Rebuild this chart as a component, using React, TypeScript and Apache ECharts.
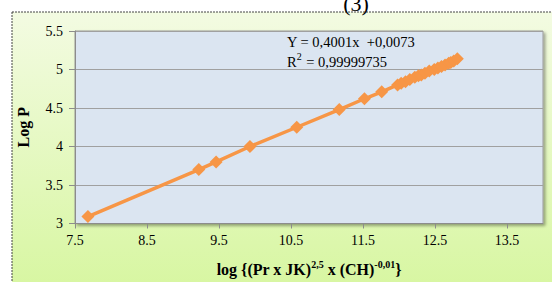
import React, { useEffect, useRef } from "react";
import * as echarts from "echarts";

const xValues = [7.68, 9.22, 9.46, 9.93, 10.58, 11.17, 11.52, 11.76, 11.98, 12.03, 12.09, 12.15, 12.22, 12.27, 12.31, 12.36, 12.42, 12.49, 12.54, 12.59, 12.64, 12.69, 12.72, 12.76, 12.81];
const yValues = [3.09, 3.70, 3.80, 4.00, 4.25, 4.48, 4.62, 4.71, 4.80, 4.82, 4.84, 4.87, 4.90, 4.92, 4.93, 4.95, 4.98, 5.00, 5.02, 5.04, 5.06, 5.08, 5.09, 5.11, 5.14];
const equationText = "Y = 0,4001x  +0,0073";
const r2Text = "0,99999735";
const yTitle = "Log P";
const figureLabel = "(3)";

const serif = "Liberation Serif";

export default function App() {
  const ref = useRef<HTMLDivElement>(null);
  useEffect(() => {
    document.body.style.margin = "0";
    const chart = echarts.init(ref.current!, undefined, { renderer: "svg" });
    const data = xValues.map((x, i) => [x, yValues[i]]);
    chart.setOption({
      animation: false,
      graphic: [
        {
          type: "rect",
          z: -100,
          silent: true,
          shape: { x: 12, y: 12, width: 560, height: 290 },
          style: {
            fill: new echarts.graphic.LinearGradient(0, 0, 0, 1, [
              { offset: 0, color: "#f3fbe2" },
              { offset: 1, color: "#d6f69e" },
            ]),
            stroke: "#444",
            lineWidth: 1,
            lineDash: [2, 1],
          },
        },
        {
          type: "text",
          x: 356,
          y: 14,
          style: {
            text: figureLabel,
            font: `22px "${serif}"`,
            fill: "#000",
            textAlign: "center",
            textVerticalAlign: "bottom",
          },
        },
        {
          type: "text",
          x: 287,
          y: 42,
          z: 10,
          style: {
            text: equationText,
            font: `14.5px "${serif}"`,
            fill: "#000",
            textVerticalAlign: "middle",
          },
        },
        {
          type: "text",
          x: 287,
          y: 62,
          z: 10,
          style: {
            text: "{a|R}{s|2}{a| = " + r2Text + "}",
            textVerticalAlign: "middle",
            rich: {
              a: { font: `14.5px "${serif}"`, fill: "#000" },
              s: { font: `10px "${serif}"`, fill: "#000", verticalAlign: "top", padding: [0, 1, 11, 0] },
            },
          },
        },
      ],
      grid: {
        left: 75,
        top: 31,
        right: 9,
        bottom: 55,
        show: true,
        backgroundColor: "#dbe5f1",
        borderColor: "#9a9a9a",
        borderWidth: 1,
        shadowColor: "rgba(0,0,0,0.35)",
        shadowBlur: 3,
        shadowOffsetX: 2,
        shadowOffsetY: 2,
      },
      xAxis: {
        type: "value",
        min: 7.5,
        max: 14,
        interval: 1,
        splitLine: { show: false },
        axisLine: { show: true, onZero: false, lineStyle: { color: "#8c8c8c" } },
        axisTick: { show: true, length: 5, lineStyle: { color: "#8c8c8c" } },
        axisLabel: {
          showMaxLabel: false,
          margin: 10,
          color: "#000",
          fontFamily: serif,
          fontSize: 14,
          formatter: (v: number) => String(v),
        },
        name: "{b|log {(Pr x JK)}{s|2,5}{b| x (CH)}{s|-0,01}}",
        nameLocation: "middle",
        nameGap: 36,
        nameTextStyle: {
          fontFamily: serif,
          fontWeight: "bold",
          fontSize: 16,
          color: "#000",
          rich: {
            b: { fontFamily: serif, fontWeight: "bold", fontSize: 16, color: "#000" },
            s: { fontFamily: serif, fontWeight: "bold", fontSize: 10, color: "#000", verticalAlign: "top", padding: [0, 0, 9, 0] },
          },
        },
      },
      yAxis: {
        type: "value",
        min: 3,
        max: 5.5,
        interval: 0.5,
        splitLine: { show: true, lineStyle: { color: "#a0a0a0", width: 1 } },
        axisLine: { show: true, lineStyle: { color: "#8c8c8c" } },
        axisTick: { show: true, length: 6, lineStyle: { color: "#8c8c8c" } },
        axisLabel: {
          margin: 12,
          color: "#000",
          fontFamily: serif,
          fontSize: 14,
          formatter: (v: number) => String(v),
        },
        name: yTitle,
        nameLocation: "middle",
        nameGap: 44,
        nameTextStyle: { fontFamily: serif, fontWeight: "bold", fontSize: 16, color: "#000" },
      },
      series: [
        {
          type: "line",
          data,
          symbol: "diamond",
          symbolSize: 13,
          color: "#f79646",
          itemStyle: { color: "#f79646" },
          lineStyle: { color: "#f79646", width: 3.5 },
        },
      ],
    });
    return () => chart.dispose();
  }, []);
  return <div ref={ref} style={{ width: 552, height: 282 }} />;
}
